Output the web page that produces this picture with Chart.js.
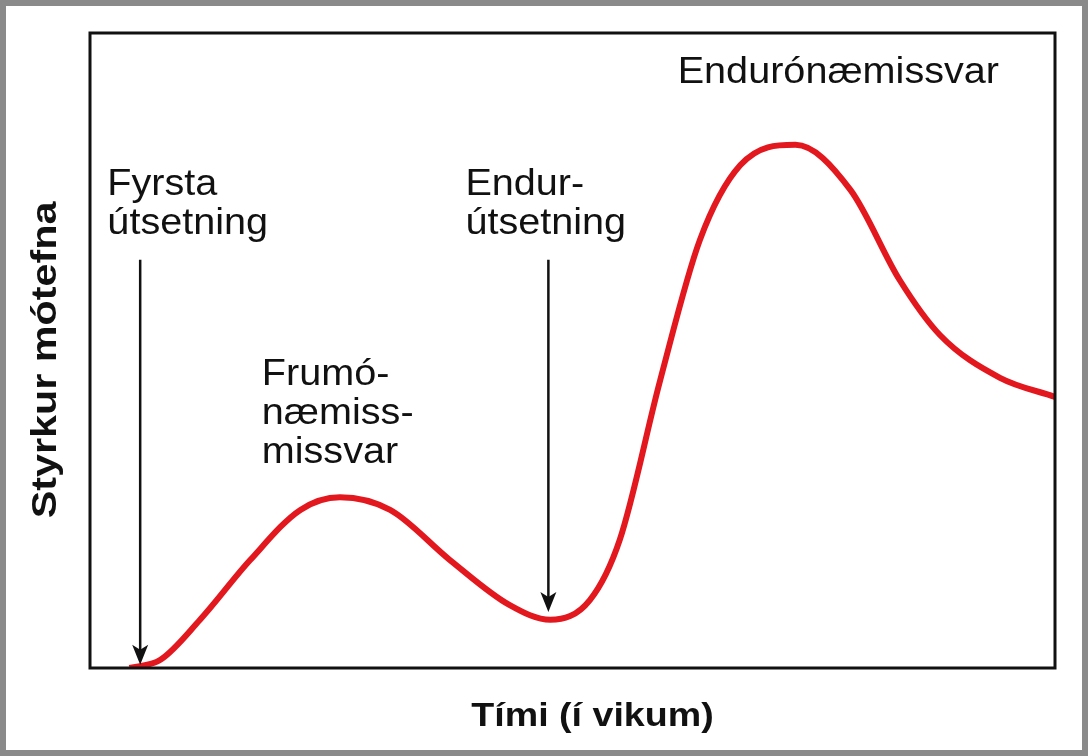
<!DOCTYPE html>
<html>
<head>
<meta charset="utf-8">
<script src="https://cdn.jsdelivr.net/npm/chart.js@4"></script>
<style>
  html, body { margin: 0; padding: 0; background: #fff; }
  #wrap { width: 1088px; height: 756px; }
</style>
</head>
<body>
<div id="wrap"><canvas id="chart" width="1088" height="756"></canvas></div>
<script>
// curve points (weeks-ish, relative antibody level)
const timeValues = [4.1, 7.3, 11.4, 16.6, 21.8, 25.9, 31.1, 37.3, 43.5, 47.7, 51.8, 54.9, 59.1, 63.2, 67.4, 73.1, 78.8, 83.9, 88.1, 94.3, 100];
const antibodyValues = [0, 1.3, 7.6, 17, 24.9, 26.9, 24.9, 17, 9.9, 7.6, 10.7, 20.2, 45.4, 67.4, 79.2, 82.4, 75.3, 61.1, 52.4, 45.7, 42.7];

// exposure arrows: x, top, bottom (in data units)
const arrowX = [5.2, 47.5];
const arrowTop = [64.3, 64.3];
const arrowBottom = [0.5, 8.8];

// text labels
const labelLines = [['Fyrsta', 'útsetning'], ['Endur-', 'útsetning'], ['Frumó-', 'næmiss-', 'missvar'], ['Endurónæmissvar']];
const labelX = [1.8, 38.9, 17.8, 60.9];
const labelY = [76.1, 76.1, 46.1, 93.7];

const xTitle = 'Tími (í vikum)';
const yTitle = 'Styrkur mótefna';

function wideText(ctx, text, px, py, sx) {
  ctx.save();
  ctx.translate(px, py);
  ctx.scale(sx, 1);
  ctx.fillText(text, 0, 0);
  ctx.restore();
}

const decorations = {
  id: 'decorations',
  afterDraw(chart) {
    const { ctx, chartArea: a, scales: { x, y } } = chart;
    ctx.save();
    // outer grey frame
    ctx.strokeStyle = '#8a8a8a';
    ctx.lineWidth = 12;
    ctx.strokeRect(0, 0, chart.width, chart.height);
    // plot box
    ctx.strokeStyle = '#111';
    ctx.lineWidth = 3;
    ctx.strokeRect(a.left, a.top, a.right - a.left, a.bottom - a.top);

    // arrows
    ctx.fillStyle = '#111';
    arrowX.forEach((v, i) => {
      const px = x.getPixelForValue(v);
      const top = y.getPixelForValue(arrowTop[i]);
      const bot = y.getPixelForValue(arrowBottom[i]);
      ctx.lineWidth = 2.5;
      ctx.beginPath();
      ctx.moveTo(px, top);
      ctx.lineTo(px, bot - 14);
      ctx.stroke();
      ctx.beginPath();
      ctx.moveTo(px, bot);
      ctx.lineTo(px - 8, bot - 20);
      ctx.lineTo(px, bot - 15);
      ctx.lineTo(px + 8, bot - 20);
      ctx.closePath();
      ctx.fill();
    });

    // labels
    ctx.font = '36px "Liberation Sans", Arial, sans-serif';
    ctx.textBaseline = 'middle';
    ctx.textAlign = 'left';
    labelLines.forEach((lines, i) => {
      const px = x.getPixelForValue(labelX[i]);
      const py = y.getPixelForValue(labelY[i]);
      lines.forEach((t, j) => wideText(ctx, t, px, py + j * 39, 1.1));
    });

    // axis titles
    ctx.font = 'bold 33px "Liberation Sans", Arial, sans-serif';
    ctx.textAlign = 'center';
    wideText(ctx, xTitle, (a.left + a.right) / 2 + 20, 717, 1.14);
    ctx.translate(46, 360);
    ctx.rotate(-Math.PI / 2);
    ctx.font = 'bold 35px "Liberation Sans", Arial, sans-serif';
    wideText(ctx, yTitle, 0, 0, 1.18);
    ctx.restore();
  }
};

new Chart(document.getElementById('chart'), {
  type: 'line',
  data: {
    datasets: [{
      data: timeValues.map((t, i) => ({ x: t, y: antibodyValues[i] })),
      borderColor: '#e3171e',
      borderWidth: 6,
      pointRadius: 0,
      tension: 0.4,
      cubicInterpolationMode: 'monotone',
      fill: false
    }]
  },
  options: {
    responsive: false,
    animation: false,
    layout: { padding: { left: 90, top: 33, right: 33, bottom: 88 } },
    plugins: { legend: { display: false }, tooltip: { enabled: false } },
    scales: {
      x: { type: 'linear', min: 0, max: 100, display: false },
      y: { min: 0, max: 100, display: false }
    }
  },
  plugins: [decorations]
});
</script>
</body>
</html>
